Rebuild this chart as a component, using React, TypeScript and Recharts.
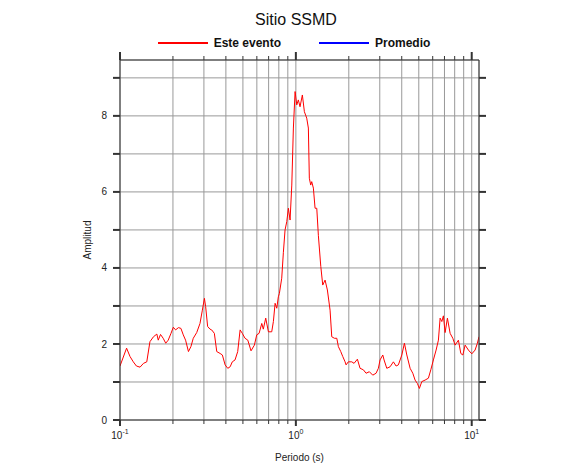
import { LineChart, Line, XAxis, YAxis, CartesianGrid, Legend } from "recharts";

// Periodo (s) and amplitude
const periods = [
  0.1, 0.109, 0.114, 0.119, 0.124, 0.13, 0.136, 0.142, 0.148, 0.155, 0.162, 0.165, 0.17, 0.176,
  0.182, 0.188, 0.195, 0.201, 0.207, 0.215, 0.222, 0.229, 0.236, 0.245, 0.253, 0.261, 0.273,
  0.285, 0.294, 0.302, 0.307, 0.315, 0.325, 0.332, 0.344, 0.355, 0.371, 0.382, 0.396, 0.41,
  0.423, 0.435, 0.451, 0.467, 0.482, 0.496, 0.514, 0.533, 0.556, 0.581, 0.599, 0.618, 0.64,
  0.653, 0.674, 0.698, 0.729, 0.745, 0.762, 0.779, 0.795, 0.806, 0.831, 0.849, 0.868, 0.888,
  0.907, 0.927, 0.948, 0.968, 0.99, 1.012, 1.033, 1.056, 1.089, 1.118, 1.153, 1.178, 1.193,
  1.215, 1.231, 1.258, 1.286, 1.315, 1.343, 1.386, 1.422, 1.466, 1.511, 1.565, 1.6, 1.656,
  1.709, 1.745, 1.8, 1.848, 1.905, 1.93, 1.988, 2.08, 2.143, 2.238, 2.318, 2.421, 2.507, 2.618,
  2.737, 2.858, 2.946, 3.012, 3.121, 3.174, 3.289, 3.434, 3.586, 3.715, 3.828, 4.004, 4.143,
  4.275, 4.464, 4.624, 4.764, 4.91, 5.04, 5.201, 5.431, 5.671, 5.853, 6.055, 6.273, 6.466,
  6.612, 6.76, 6.902, 7.058, 7.274, 7.536, 7.807, 8.046, 8.401, 8.67, 8.901, 9.173, 9.577,
  10.01, 10.45, 10.77, 11.0,
];
const esteEvento = [
  1.42, 1.89, 1.67, 1.53, 1.42, 1.39, 1.49, 1.53, 2.06, 2.19, 2.26, 2.1, 2.25, 2.15,
  2.02, 2.1, 2.28, 2.44, 2.37, 2.43, 2.41, 2.24, 2.1, 1.8, 1.93, 2.15, 2.3,
  2.54, 2.89, 3.2, 2.98, 2.46, 2.39, 2.37, 2.28, 1.8, 1.75, 1.71, 1.45, 1.36,
  1.4, 1.53, 1.58, 1.8, 2.37, 2.28, 2.15, 2.1, 1.82, 1.97, 2.24, 2.28, 2.54,
  2.39, 2.68, 2.32, 2.32, 2.59, 3.07, 2.94, 3.24, 3.33, 3.73, 4.4, 5.0, 5.22,
  5.57, 5.26, 6.18, 7.68, 8.64, 8.29, 8.42, 8.24, 8.55, 8.11, 7.94, 7.68, 6.36,
  6.18, 6.27, 6.1, 5.57, 5.57, 4.85, 4.04, 3.55, 3.68, 3.42, 2.89, 2.19, 2.15,
  2.15, 1.93, 1.8, 1.67, 1.53, 1.45, 1.53, 1.53, 1.49, 1.6, 1.36, 1.32, 1.23, 1.27,
  1.18, 1.23, 1.36, 1.58, 1.71, 1.58, 1.36, 1.4, 1.53, 1.42, 1.45, 1.71, 2.02,
  1.71, 1.36, 1.23, 1.05, 0.96, 0.83, 1.01, 1.05, 1.1, 1.32, 1.58, 1.84, 2.1,
  2.68, 2.59, 2.74, 2.3, 2.68, 2.28, 2.15, 1.97, 2.1, 1.75, 1.71, 1.97, 1.84,
  1.74, 1.84, 2.02, 2.19,
];

const seriesNames = ["Este evento", "Promedio"];
const seriesColors = ["#ff0000", "#0000ff"];

const xTicks = [
  0.1, 0.2, 0.3, 0.4, 0.5, 0.6, 0.7, 0.8, 0.9, 1, 2, 3, 4, 5, 6, 7, 8, 9, 10,
];
const xMajor = [0.1, 1, 10];
const yTicks = [0, 1, 2, 3, 4, 5, 6, 7, 8, 9];

const data = periods.map((p, i) => ({ periodo: p, evento: esteEvento[i] }));

const FONT = '"Liberation Sans", Arial, Helvetica, sans-serif';
const AXIS = "#333";

const isMajor = (v: number) => xMajor.some((m) => Math.abs(m - v) < 1e-9);

const BottomTick = (props: any) => {
  const { x, y, payload } = props;
  const major = isMajor(payload.value);
  const exp = Math.round(Math.log10(payload.value));
  return (
    <g>
      <line x1={x} x2={x} y1={y} y2={y + (major ? 6 : 4)} stroke={AXIS} strokeWidth={major ? 2 : 1} />
      {major && (
        <text x={x} y={y + 19} textAnchor="middle" fontSize={10} fill="#222" fontFamily={FONT}>
          10
          <tspan dy={-5} fontSize={7}>
            {exp}
          </tspan>
        </text>
      )}
    </g>
  );
};

const TopTick = (props: any) => {
  const { x, y, payload } = props;
  const major = isMajor(payload.value);
  return (
    <line x1={x} x2={x} y1={y} y2={y - (major ? 8 : 4)} stroke={AXIS} strokeWidth={major ? 2 : 1} />
  );
};

const LegendBox = () => (
  <div
    style={{
      display: "flex",
      justifyContent: "center",
      alignItems: "center",
      gap: 38,
      fontFamily: FONT,
      fontWeight: "bold",
      fontSize: 12,
      color: "#111",
    }}
  >
    {seriesNames.map((n, i) => (
      <div key={n} style={{ display: "flex", alignItems: "center" }}>
        <svg width={50} height={4} style={{ marginRight: 6 }}>
          <line x1={0} x2={50} y1={2} y2={2} stroke={seriesColors[i]} strokeWidth={2} />
        </svg>
        <span>{n}</span>
      </div>
    ))}
  </div>
);

export default function App() {
  return (
    <div style={{ position: "absolute", left: 0, top: 0, width: 586, height: 475, background: "#fff" }}>
      <div
        style={{
          position: "absolute",
          top: 11,
          left: 0,
          width: 592,
          textAlign: "center",
          fontFamily: FONT,
          fontSize: 16,
          color: "#111",
        }}
      >
        Sitio SSMD
      </div>
      <LineChart width={586} height={475} data={data} margin={{ top: 50, right: 87, bottom: 25, left: 80 }}>
        <CartesianGrid stroke="#999" strokeWidth={1} />
        <XAxis
          dataKey="periodo"
          type="number"
          scale="log"
          domain={[0.1, 11]}
          allowDataOverflow
          ticks={xTicks}
          height={30}
          tickSize={0}
          tickMargin={0}
          tickLine={false}
          axisLine={{ stroke: AXIS }}
          tick={<BottomTick />}
          interval={0}
          label={{ value: "Periodo (s)", position: "center", dy: 22, fontSize: 10, fill: "#222", fontFamily: FONT }}
        />
        <XAxis
          xAxisId="top"
          orientation="top"
          dataKey="periodo"
          type="number"
          scale="log"
          domain={[0.1, 11]}
          allowDataOverflow
          ticks={xTicks}
          height={10}
          tickSize={0}
          tickMargin={0}
          tickLine={false}
          axisLine={{ stroke: AXIS }}
          tick={<TopTick />}
          interval={0}
        />
        <YAxis
          type="number"
          domain={[0, 9.47]}
          allowDataOverflow
          ticks={yTicks}
          interval={0}
          width={40}
          tickSize={7}
          tickMargin={6}
          tickLine={{ stroke: AXIS, strokeWidth: 2 }}
          axisLine={{ stroke: AXIS }}
          tick={{ fontSize: 10, fill: "#222", fontFamily: FONT }}
          tickFormatter={(v: number) => (v % 2 === 0 ? String(v) : "")}
          label={{ value: "Amplitud", angle: -90, position: "center", dx: -13, fontSize: 10, fill: "#222", fontFamily: FONT }}
        />
        <YAxis
          yAxisId="right"
          orientation="right"
          type="number"
          domain={[0, 9.47]}
          allowDataOverflow
          ticks={yTicks}
          interval={0}
          width={20}
          tickSize={7}
          tickLine={{ stroke: AXIS, strokeWidth: 2 }}
          axisLine={{ stroke: AXIS }}
          tickFormatter={() => ""}
        />
        <Legend
          layout="horizontal"
          verticalAlign="middle"
          align="center"
          content={<LegendBox />}
          wrapperStyle={{ position: "absolute", top: 36, left: 0, width: 588, height: 16 }}
        />
        <Line
          type="linear"
          dataKey="evento"
          name={seriesNames[0]}
          stroke={seriesColors[0]}
          strokeWidth={1}
          dot={false}
          activeDot={false}
          isAnimationActive={false}
        />
      </LineChart>
    </div>
  );
}
